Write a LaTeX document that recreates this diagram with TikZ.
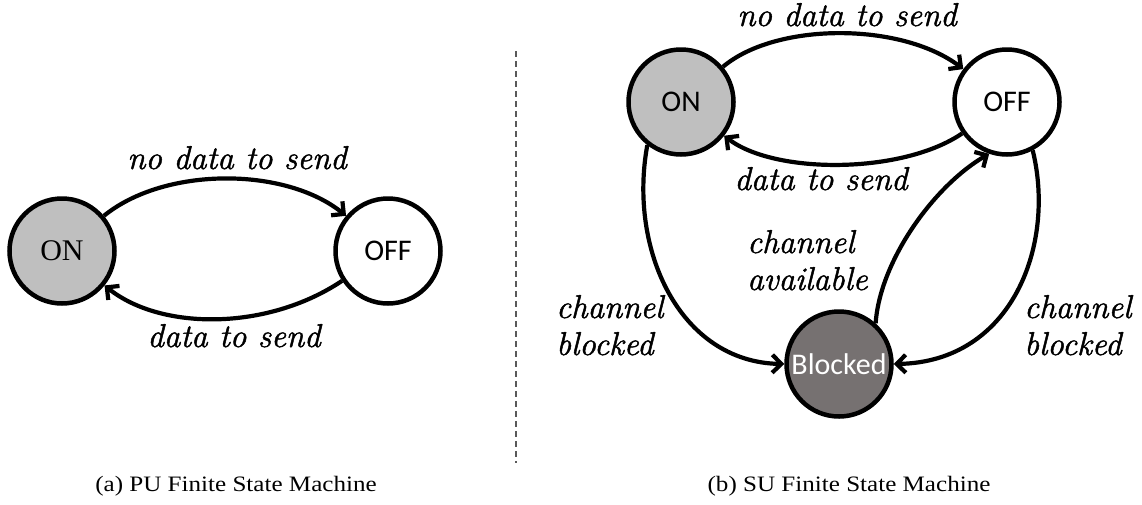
\documentclass[tikz,border=0pt]{standalone}
\usepackage{fontspec}
\usetikzlibrary{arrows.meta}
\newfontfamily\tnrfont{Liberation Serif}
\newfontfamily\calfont{Carlito}
\newfontfamily\labfont{Latin Modern Roman}[ItalicFeatures={FakeBold=1.4}]
\definecolor{ongray}{HTML}{BFBFBF}
\definecolor{blkgray}{HTML}{767171}
\tikzset{
  state/.style={circle, draw=black, line width=4.5pt, minimum size=105pt, inner sep=0pt},
  lbl/.style={font=\labfont\fontsize{33}{37}\selectfont\itshape, anchor=base, inner sep=0pt},
  lblw/.style={lbl, anchor=base west},
  arr/.style={line width=4.2pt, -{Straight Barb[length=9pt,width=18pt]}},
  sepline/.style={line width=1.2pt, draw=black!65, dash pattern=on 6pt off 4pt},
  capt/.style={font=\tnrfont\fontsize{22}{26}\selectfont, anchor=base, inner sep=0pt}
}
\begin{document}
\begin{tikzpicture}[x=1pt,y=-1pt]
\useasboundingbox (0,0) rectangle (1142,504);

% ---------- (a) PU ----------
\node[state, fill=ongray, font=\tnrfont\fontsize{30}{30}\selectfont] (ONa) at (62,251) {ON};
\node[state, fill=white, font=\calfont\fontsize{30}{30}\selectfont] (OFFa) at (388,251) {OFF};
\draw[arr] (ONa.40) .. controls (164.5,166.5) and (285,166.5) .. (OFFa.140);
\draw[arr] (OFFa.213) .. controls (267.6,330.8) and (161,330.8) .. (ONa.321);
\node[lbl] (la1) at (237,169) {no data to send};
\node[lbl] (la2) at (234,347) {data to send};

% separator
\coordinate (sepTop) at (516,51);
\coordinate (sepBot) at (516,463);
\draw[sepline] (sepTop) -- (sepBot);

% ---------- (b) SU ----------
\node[state, fill=ongray, font=\calfont\fontsize{30}{30}\selectfont] (ONb) at (681,102) {ON};
\node[state, fill=white, font=\calfont\fontsize{30}{30}\selectfont] (OFFb) at (1007,102) {OFF};
\node[state, fill=blkgray, text=white, font=\calfont\fontsize{30}{30}\selectfont] (BLK) at (839,364) {Blocked};

\draw[arr] (ONb.40) .. controls (776,22) and (901,22) .. (OFFb.143);
\draw[arr] (OFFb.215) .. controls (902,174.5) and (774,174.5) .. (ONb.322);
\draw[arr] (ONb.232) .. controls (628,250) and (680,362) .. (BLK.180);
\draw[arr] (OFFb.298) .. controls (1056,245) and (1012,362) .. (BLK.0);
\draw[arr] (BLK.48) .. controls (880,260) and (935,185) .. (OFFb.251);

\node[lbl] (lb1) at (847,26) {no data to send};
\node[lbl] (lb2) at (821,190) {data to send};
\node[lblw] (lb3) at (747,253) {channel};
\node[lblw] (lb4) at (747,290) {available};
\node[lblw] (lb5) at (556,318) {channel};
\node[lblw] (lb6) at (556,355) {blocked};
\node[lblw] (lb7) at (1024,318) {channel};
\node[lblw] (lb8) at (1024,355) {blocked};

% captions
\node[capt] (capa) at (236,491) {\scalebox{1.14}[1]{(a) PU Finite State Machine}};
\node[capt] (capb) at (849,491) {\scalebox{1.14}[1]{(b) SU Finite State Machine}};
\end{tikzpicture}
\end{document}
